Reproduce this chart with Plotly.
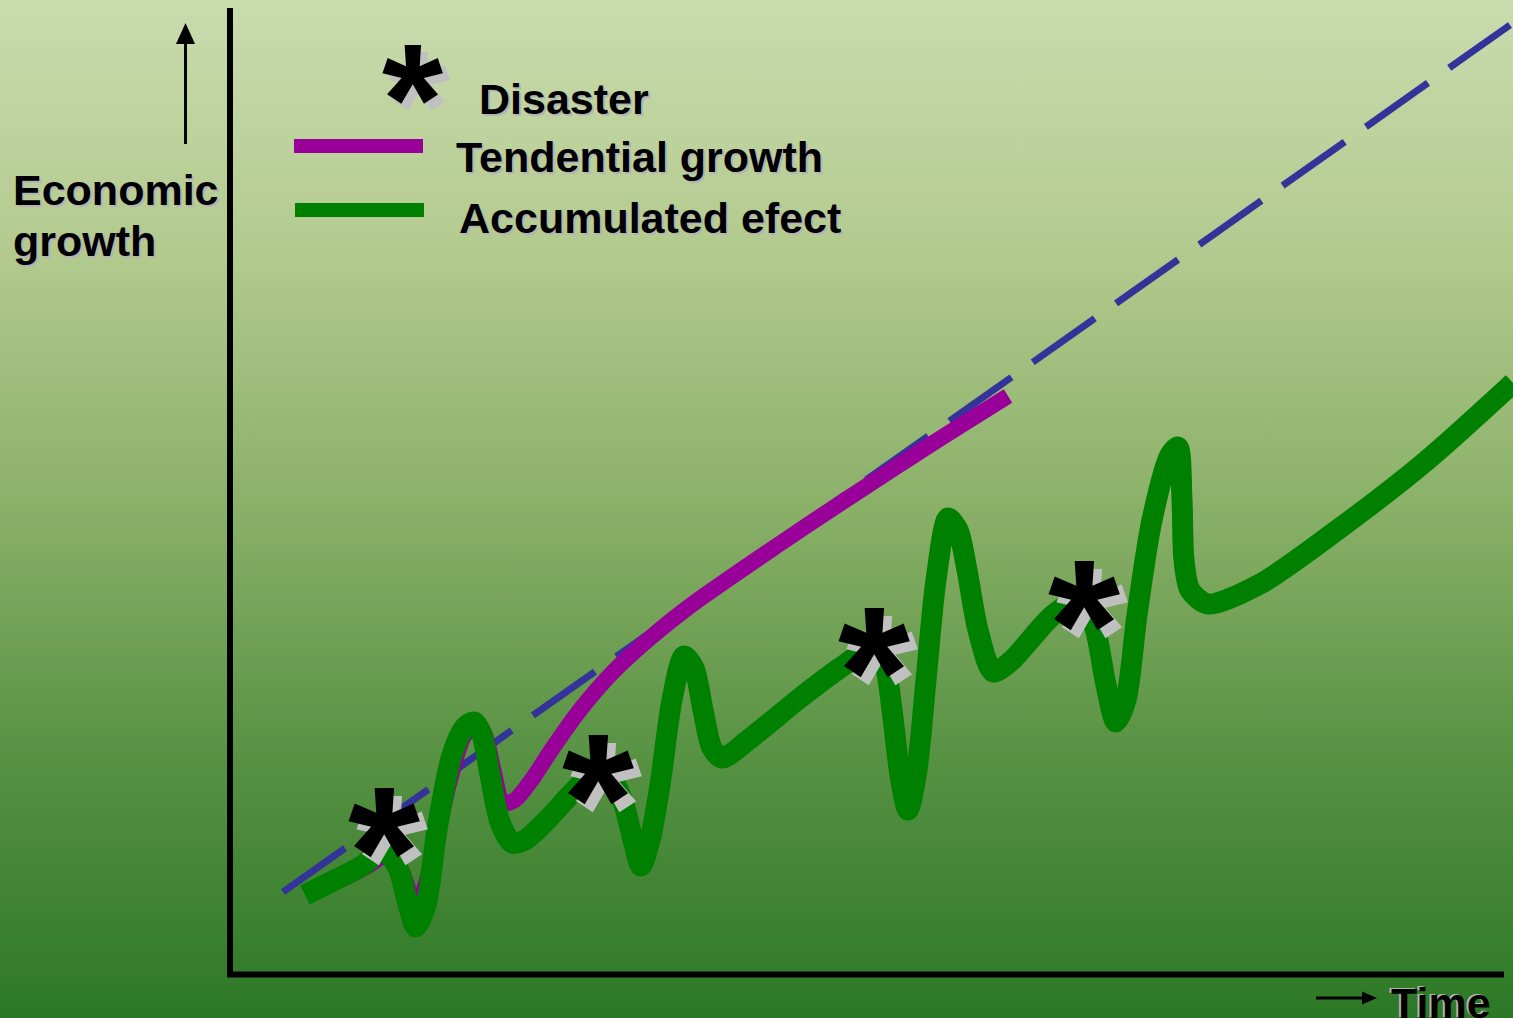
import plotly.graph_objects as go

# Canvas units: 1 unit = 1 px, origin at bottom-left of the page
W, H = 1513, 1018

# Trend line (long-run tendency, dashed)
trend_time = [283, 1510]
trend_growth = [126, 993]

# Tendential growth after the first disaster
tend_time = [308, 340, 366, 386, 401, 410, 418, 427, 437, 450, 463, 476, 485, 493,
             503, 515, 533, 550, 580, 613, 650, 690, 775, 850, 930, 1008]
tend_growth = [126, 138, 151, 162, 148, 125, 116, 138, 183, 238, 280, 296, 283, 250,
               215, 218, 240, 266, 308, 346, 380, 412, 471, 521, 573, 622]

# Accumulated effect of repeated disasters
acc_time = [305, 335, 362, 384, 398, 407, 416, 426, 437, 452, 465, 474, 482, 490,
            500, 512, 525, 547, 573, 598, 614, 624, 633, 641, 650, 660, 672, 684,
            694, 703, 712, 722, 747, 800, 840, 872, 884, 892, 900, 908, 917, 926,
            936, 948, 958, 967, 978, 993, 1010, 1053, 1082, 1095, 1106, 1116, 1126,
            1137, 1152, 1170, 1178, 1182, 1184, 1190, 1208, 1260, 1340, 1425, 1513]
acc_growth = [123, 138, 152, 168, 150, 118, 91, 113, 188, 263, 291, 296, 283, 243,
              196, 175, 178, 198, 226, 248, 236, 213, 178, 152, 178, 233, 318, 362,
              350, 308, 270, 260, 277, 320, 350, 370, 356, 308, 243, 208, 248, 338,
              438, 500, 488, 448, 388, 346, 356, 403, 420, 390, 333, 296, 318,
              403, 498, 563, 571, 518, 458, 428, 414, 434, 490, 556, 635]

# Disaster events
disaster_time = [384, 598, 874, 1084]
disaster_growth = [195, 248, 375, 422]

# Legend entries
legend_labels = ["Disaster", "Tendential growth", "Accumulated efect"]

BLUE = "#333399"
MAGENTA = "#990099"
GREEN = "#008000"
FONT = "Liberation Sans, Arial, sans-serif"
STAR_SIZE = 185
LEGEND_STAR_SIZE = 157

fig = go.Figure()

# Background: vertical gradient from dark green (bottom) to pale green (top)
fig.add_trace(go.Scatter(
    x=[0, W, W, 0, 0], y=[0, 0, H, H, 0],
    mode="lines", line=dict(width=0), fill="toself",
    fillgradient=dict(type="vertical", colorscale=[
        [0.0, "rgb(44,120,38)"],
        [0.25, "rgb(86,145,66)"],
        [0.5, "rgb(138,176,104)"],
        [0.75, "rgb(178,202,142)"],
        [1.0, "rgb(202,219,174)"],
    ]),
    hoverinfo="skip", showlegend=False,
))

fig.add_trace(go.Scatter(
    x=trend_time, y=trend_growth, mode="lines",
    line=dict(color=BLUE, width=7, dash="76px,26px"),
    hoverinfo="skip", showlegend=False,
))
fig.add_trace(go.Scatter(
    x=tend_time, y=tend_growth, mode="lines",
    line=dict(color=MAGENTA, width=16, shape="spline", smoothing=0.8),
    hoverinfo="skip", showlegend=False,
))
fig.add_trace(go.Scatter(
    x=acc_time, y=acc_growth, mode="lines",
    line=dict(color=GREEN, width=21, shape="spline", smoothing=0.8),
    hoverinfo="skip", showlegend=False,
))

annotations = []


def label(text, x, y, size=43, shadow=(2, -2), color="black"):
    if shadow is not None:
        annotations.append(dict(
            x=x, y=y, text=text, showarrow=False, xanchor="left", yanchor="middle",
            xshift=shadow[0], yshift=shadow[1],
            font=dict(family=FONT, size=size, color="#b4b4b4", weight="bold"),
        ))
    annotations.append(dict(
        x=x, y=y, text=text, showarrow=False, xanchor="left", yanchor="middle",
        font=dict(family=FONT, size=size, color=color, weight="bold"),
    ))


def star(x, y, size, offset):
    # the asterisk glyph sits above the middle of its text box
    lift = -0.155 * size
    annotations.append(dict(
        x=x, y=y, text="*", showarrow=False, xanchor="center", yanchor="middle",
        xshift=offset, yshift=lift - offset,
        font=dict(family=FONT, size=size, color="#c0c0c0", weight="bold"),
    ))
    annotations.append(dict(
        x=x, y=y, text="*", showarrow=False, xanchor="center", yanchor="middle",
        yshift=lift,
        font=dict(family=FONT, size=size, color="black", weight="bold"),
    ))


for t, g in zip(disaster_time, disaster_growth):
    star(t, g, STAR_SIZE, 8)

# Legend
star(412, 943, LEGEND_STAR_SIZE, 7)
label(legend_labels[0], 477, 919)
label(legend_labels[1], 454, 861)
label(legend_labels[2], 457, 800)

# Axis titles
label("Economic", 11, 828)
label("growth", 11, 777)
label("Time", 1389, 15, shadow=(-2, 1))

shapes = [
    # vertical axis
    dict(type="line", x0=230, x1=230, y0=1010, y1=41, line=dict(color="black", width=6)),
    # horizontal axis
    dict(type="line", x0=227, x1=1504, y0=43.5, y1=43.5, line=dict(color="black", width=6)),
    # up arrow
    dict(type="line", x0=185.5, x1=185.5, y0=874, y1=976, line=dict(color="black", width=3)),
    dict(type="path", path="M 176 974 L 185.5 995 L 195 974 Z",
         fillcolor="black", line=dict(width=0)),
    # time arrow
    dict(type="line", x0=1316, x1=1364, y0=20, y1=20, line=dict(color="black", width=3)),
    dict(type="path", path="M 1362 26.5 L 1377 20 L 1362 13.5 Z",
         fillcolor="black", line=dict(width=0)),
    # legend swatches
    dict(type="line", x0=294, x1=423, y0=872, y1=872, line=dict(color=MAGENTA, width=14)),
    dict(type="line", x0=295, x1=424, y0=808, y1=808, line=dict(color=GREEN, width=14)),
]

fig.update_layout(
    width=W, height=H,
    margin=dict(l=0, r=0, t=0, b=0),
    paper_bgcolor="rgb(44,120,38)",
    plot_bgcolor="rgba(0,0,0,0)",
    xaxis=dict(range=[0, W], visible=False, fixedrange=True),
    yaxis=dict(range=[0, H], visible=False, fixedrange=True),
    showlegend=False,
    annotations=annotations,
    shapes=shapes,
)

fig.write_html("out.html", config={"displayModeBar": False})
